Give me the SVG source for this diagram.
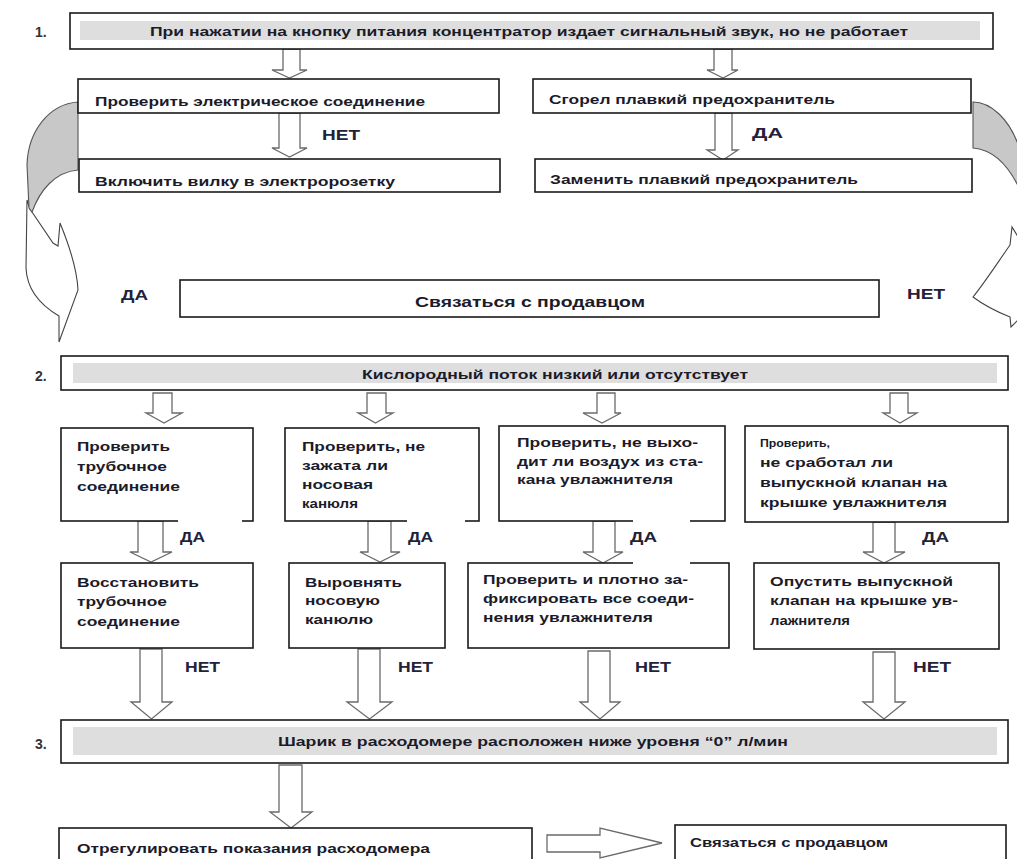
<svg xmlns="http://www.w3.org/2000/svg" width="1017" height="859" viewBox="0 0 1017 859">
<style>
.box{fill:#fff;stroke:#1a1a1a;stroke-width:1.6}
.band{fill:#dedede;stroke:none}
.arr{fill:#fff;stroke:#6a6a6a;stroke-width:1.3;stroke-linejoin:miter}
.curveg{fill:#c8c8c8;stroke:#555;stroke-width:1.1}
.curvew{fill:#fff;stroke:#444;stroke-width:1.1}
.t{font-family:"Liberation Sans",Arial,sans-serif;font-weight:bold;fill:#1b1b2a;font-size:12px}
.t13{font-size:13px}
.t11{font-size:11px}
.lbl{font-family:"Liberation Sans",Arial,sans-serif;font-weight:bold;fill:#22223a;font-size:15px}
.num{font-family:"Liberation Sans",Arial,sans-serif;font-weight:bold;fill:#333;font-size:14px}
.gap{fill:#fff;stroke:none}
</style>

<g id="step-numbers">
<text class="num" x="35" y="37">1.</text>
<text class="num" x="35" y="381">2.</text>
<text class="num" x="35" y="749">3.</text>
</g>

<g id="connectors">
<path class="arr" d="M283,49 L300,49 L300,70 L307,70 L289.5,78 L272,70 L283,70 Z"/>
<path class="arr" d="M714,49 L732,49 L732,70 L738,70 L723,78 L707,70 L714,70 Z"/>
<path class="arr" d="M279,113 L300,113 L300,148 L307,148 L289.5,157 L272,148 L279,148 Z"/>
<path class="arr" d="M715,113 L732,113 L732,150 L738,150 L723,160 L707,150 L715,150 Z"/>
<path class="curvew" d="M30,209 L53,243 L58,246 L60,223 C67,240 77,268 78,290 L59,342 L59,316 C42,306 27,292 26,268 L27,200 Z"/>
<path class="curveg" d="M78,102 C50,104 28,130 27,165 L29,208 L32,212 C40,190 55,172 78,170 Z"/>
<path class="curveg" d="M973,102 C990,102 1010,118 1020,150 L1020,190 C1010,168 995,150 973,148 Z"/>
<path class="curvew" d="M1020,240 L1012,227 L1010,245 C996,265 985,282 973,297 C985,306 1000,313 1010,317 L1011,327 L1020,318 Z"/>
<path class="arr" d="M153,393 L172,393 L172,413 L182,413 L164,423 L146,413 L153,413 Z"/>
<path class="arr" d="M367,393 L386,393 L386,413 L393,413 L375.5,423 L358,413 L367,413 Z"/>
<path class="arr" d="M597,393 L615,393 L615,413 L621,413 L602,423 L583,413 L597,413 Z"/>
<path class="arr" d="M890,393 L908,393 L908,413 L917,413 L900,423 L883,413 L890,413 Z"/>
<path class="arr" d="M138,521 L163,521 L163,552 L172,552 L151,562 L130,552 L138,552 Z"/>
<path class="arr" d="M368,521 L391,521 L391,552 L400,552 L380,562 L360,552 L368,552 Z"/>
<path class="arr" d="M593,521 L615,521 L615,552 L623,552 L603,563 L583,552 L593,552 Z"/>
<path class="arr" d="M873,522 L895,522 L895,552 L905,552 L884,563 L863,552 L873,552 Z"/>
<path class="arr" d="M140,649 L162,649 L162,702 L172,702 L151.5,719 L131,702 L140,702 Z"/>
<path class="arr" d="M358,649 L380,649 L380,702 L392,702 L369.5,719 L347,702 L358,702 Z"/>
<path class="arr" d="M588,651 L610,651 L610,702 L620,702 L600,719 L580,702 L588,702 Z"/>
<path class="arr" d="M873,652 L895,652 L895,702 L905,702 L884,719 L863,702 L873,702 Z"/>
<path class="arr" d="M279,765 L302,765 L302,812 L312,812 L291,828 L270,812 L279,812 Z"/>
<path class="arr" d="M547,835 L600,835 L600,828 L662,843 L600,858 L600,852 L547,852 Z"/>
</g>

<g id="n-top1">
<rect class="box" x="70" y="13" width="923" height="36"/>
<rect class="band" x="80" y="21" width="900" height="19"/>
<text class="t t13" x="150" y="36" textLength="758" lengthAdjust="spacingAndGlyphs">При нажатии на кнопку питания концентратор издает сигнальный звук, но не работает</text>
</g>

<g id="n-check-elec">
<rect class="box" x="78" y="79" width="421" height="34"/>
<text class="t" x="95" y="106" textLength="330" lengthAdjust="spacingAndGlyphs">Проверить электрическое соединение</text>
</g>
<g id="n-plug">
<rect class="box" x="79" y="159" width="421" height="33"/>
<text class="t" x="95" y="186" textLength="300" lengthAdjust="spacingAndGlyphs">Включить вилку в электророзетку</text>
</g>
<g id="n-fuse">
<rect class="box" x="533" y="79" width="438" height="34"/>
<text class="t" x="549" y="104" textLength="286" lengthAdjust="spacingAndGlyphs">Сгорел плавкий предохранитель</text>
</g>
<g id="n-replace-fuse">
<rect class="box" x="535" y="159" width="437" height="33"/>
<text class="t" x="550" y="184" textLength="308" lengthAdjust="spacingAndGlyphs">Заменить плавкий предохранитель</text>
</g>

<g id="labels-top">
<text class="lbl" x="322" y="140" textLength="38" lengthAdjust="spacingAndGlyphs">НЕТ</text>
<text class="lbl" x="752" y="138" textLength="31" lengthAdjust="spacingAndGlyphs">ДА</text>
<text class="lbl" x="121" y="300" textLength="27" lengthAdjust="spacingAndGlyphs">ДА</text>
<text class="lbl" x="907" y="299" textLength="38" lengthAdjust="spacingAndGlyphs">НЕТ</text>
</g>

<g id="n-seller1">
<rect class="box" x="180" y="280" width="699" height="37"/>
<text class="t" x="415" y="307" textLength="230" lengthAdjust="spacingAndGlyphs" style="font-size:14px">Связаться с продавцом</text>
</g>

<g id="n-top2">
<rect class="box" x="61" y="356" width="947" height="34"/>
<rect class="band" x="73" y="363" width="924" height="20"/>
<text class="t t13" x="362" y="379" textLength="386" lengthAdjust="spacingAndGlyphs">Кислородный поток низкий или отсутствует</text>
</g>

<g id="n-a1">
<rect class="box" x="61" y="428" width="192" height="93"/>
<text class="t" x="77" y="451" textLength="93" lengthAdjust="spacingAndGlyphs">Проверить</text>
<text class="t" x="77" y="471" textLength="90" lengthAdjust="spacingAndGlyphs">трубочное</text>
<text class="t" x="77" y="491" textLength="103" lengthAdjust="spacingAndGlyphs">соединение</text>
</g>
<g id="n-a2">
<rect class="box" x="285" y="428" width="194" height="93"/>
<text class="t" x="302" y="451" textLength="123" lengthAdjust="spacingAndGlyphs">Проверить, не</text>
<text class="t" x="302" y="470" textLength="86" lengthAdjust="spacingAndGlyphs">зажата ли</text>
<text class="t" x="302" y="489" textLength="71" lengthAdjust="spacingAndGlyphs">носовая</text>
<text class="t" x="302" y="508" textLength="56" lengthAdjust="spacingAndGlyphs">канюля</text>
</g>
<g id="n-a3">
<rect class="box" x="499" y="426" width="226" height="95"/>
<text class="t" x="517" y="447" textLength="181" lengthAdjust="spacingAndGlyphs">Проверить, не выхо-</text>
<text class="t" x="517" y="466" textLength="186" lengthAdjust="spacingAndGlyphs">дит ли воздух из ста-</text>
<text class="t" x="517" y="484" textLength="156" lengthAdjust="spacingAndGlyphs">кана увлажнителя</text>
</g>
<g id="n-a4">
<rect class="box" x="745" y="426" width="263" height="96"/>
<text class="t t11" x="760" y="447" textLength="70" lengthAdjust="spacingAndGlyphs">Проверить,</text>
<text class="t" x="760" y="467" textLength="133" lengthAdjust="spacingAndGlyphs">не сработал ли</text>
<text class="t" x="760" y="487" textLength="187" lengthAdjust="spacingAndGlyphs">выпускной клапан на</text>
<text class="t" x="760" y="507" textLength="187" lengthAdjust="spacingAndGlyphs">крышке увлажнителя</text>
</g>

<g id="n-b1">
<rect class="box" x="61" y="563" width="192" height="85"/>
<text class="t t13" x="77" y="587" textLength="122" lengthAdjust="spacingAndGlyphs">Восстановить</text>
<text class="t t13" x="77" y="606" textLength="90" lengthAdjust="spacingAndGlyphs">трубочное</text>
<text class="t t13" x="77" y="626" textLength="103" lengthAdjust="spacingAndGlyphs">соединение</text>
</g>
<g id="n-b2">
<rect class="box" x="289" y="563" width="156" height="85"/>
<text class="t t13" x="305" y="587" textLength="97" lengthAdjust="spacingAndGlyphs">Выровнять</text>
<text class="t t13" x="305" y="605" textLength="75" lengthAdjust="spacingAndGlyphs">носовую</text>
<text class="t t13" x="305" y="624" textLength="68" lengthAdjust="spacingAndGlyphs">канюлю</text>
</g>
<g id="n-b3">
<rect class="box" x="468" y="563" width="261" height="85"/>
<text class="t t13" x="483" y="584" textLength="205" lengthAdjust="spacingAndGlyphs">Проверить и плотно за-</text>
<text class="t t13" x="483" y="603" textLength="211" lengthAdjust="spacingAndGlyphs">фиксировать все соеди-</text>
<text class="t t13" x="483" y="622" textLength="170" lengthAdjust="spacingAndGlyphs">нения увлажнителя</text>
</g>
<g id="n-b4">
<rect class="box" x="754" y="563" width="245" height="86"/>
<text class="t t13" x="770" y="586" textLength="183" lengthAdjust="spacingAndGlyphs">Опустить выпускной</text>
<text class="t t13" x="770" y="605" textLength="188" lengthAdjust="spacingAndGlyphs">клапан на крышке ув-</text>
<text class="t t13" x="770" y="625" textLength="80" lengthAdjust="spacingAndGlyphs">лажнителя</text>
</g>

<g id="labels-rows">
<rect class="gap" x="178" y="519" width="64" height="5"/>
<rect class="gap" x="407" y="519" width="58" height="5"/>
<rect class="gap" x="633" y="519" width="57" height="5"/>
<rect class="gap" x="633" y="561" width="57" height="5"/>
<text class="lbl" x="180" y="542" textLength="25" lengthAdjust="spacingAndGlyphs">ДА</text>
<text class="lbl" x="408" y="542" textLength="25" lengthAdjust="spacingAndGlyphs">ДА</text>
<text class="lbl" x="630" y="542" textLength="27" lengthAdjust="spacingAndGlyphs">ДА</text>
<text class="lbl" x="922" y="542" textLength="27" lengthAdjust="spacingAndGlyphs">ДА</text>
<text class="lbl" x="185" y="672" textLength="35" lengthAdjust="spacingAndGlyphs">НЕТ</text>
<text class="lbl" x="398" y="672" textLength="35" lengthAdjust="spacingAndGlyphs">НЕТ</text>
<text class="lbl" x="635" y="672" textLength="36" lengthAdjust="spacingAndGlyphs">НЕТ</text>
<text class="lbl" x="913" y="672" textLength="38" lengthAdjust="spacingAndGlyphs">НЕТ</text>
</g>

<g id="n-top3">
<rect class="box" x="61" y="720" width="947" height="43"/>
<rect class="band" x="73" y="727" width="924" height="28"/>
<text class="t t13" x="278" y="746" textLength="510" lengthAdjust="spacingAndGlyphs">Шарик в расходомере расположен ниже уровня “0” л/мин</text>
</g>

<g id="n-adjust">
<rect class="box" x="59" y="828" width="473" height="40"/>
<text class="t" x="77" y="853" textLength="353" lengthAdjust="spacingAndGlyphs">Отрегулировать показания расходомера</text>
</g>
<g id="n-seller2">
<rect class="box" x="675" y="825" width="331" height="43"/>
<text class="t" x="690" y="847" textLength="198" lengthAdjust="spacingAndGlyphs">Связаться с продавцом</text>
</g>
</svg>
